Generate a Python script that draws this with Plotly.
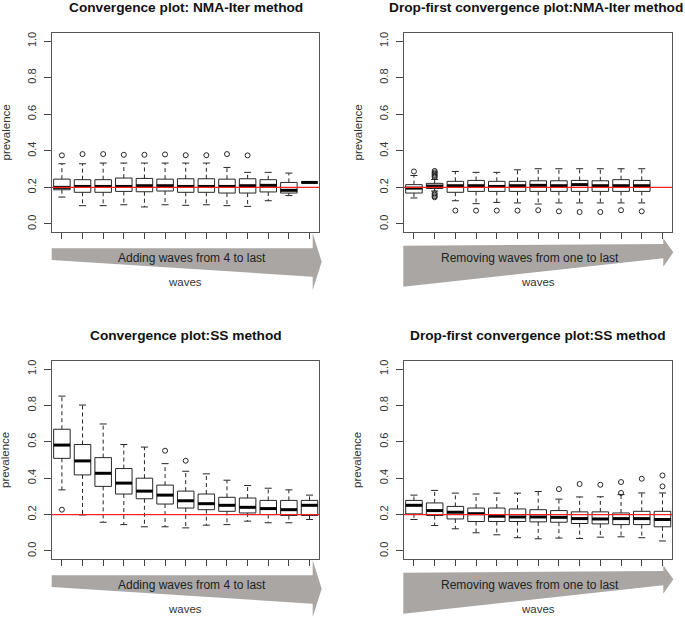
import plotly.graph_objects as go

W, H = 685, 618

# ---------------- data ----------------
titles = ["Convergence plot: NMA-Iter method",
          "Drop-first convergence plot:NMA-Iter method",
          "Convergence plot:SS method",
          "Drop-first convergence plot:SS method"]
arrow_texts = ["Adding waves from 4 to last", "Removing waves from one to last",
               "Adding waves from 4 to last", "Removing waves from one to last"]
x_title = "waves"
y_title = "prevalence"
true_prevalence = 0.2
y_ticks = [0.0, 0.2, 0.4, 0.6, 0.8, 1.0]
n_positions = 13

# Panel 1: NMA-Iter, adding waves
p1_lo = [0.147, 0.100, 0.100, 0.105, 0.093, 0.105, 0.102, 0.105, 0.100, 0.096, 0.127, 0.155, 0.227]
p1_q1 = [0.187, 0.173, 0.173, 0.178, 0.176, 0.180, 0.173, 0.173, 0.169, 0.169, 0.175, 0.169, 0.227]
p1_md = [0.200, 0.205, 0.205, 0.205, 0.209, 0.209, 0.205, 0.205, 0.205, 0.209, 0.211, 0.184, 0.227]
p1_q3 = [0.245, 0.242, 0.242, 0.251, 0.249, 0.245, 0.247, 0.247, 0.245, 0.247, 0.242, 0.227, 0.227]
p1_hi = [0.329, 0.329, 0.333, 0.333, 0.333, 0.333, 0.333, 0.333, 0.309, 0.282, 0.282, 0.278, 0.227]
p1_out_x = [1, 2, 3, 4, 5, 6, 7, 8, 9, 10]
p1_out_y = [0.375, 0.382, 0.382, 0.378, 0.378, 0.380, 0.376, 0.376, 0.382, 0.375]

# Panel 2: NMA-Iter, drop-first
p2_lo = [0.142, 0.180, 0.127, 0.111, 0.118, 0.115, 0.109, 0.115, 0.115, 0.115, 0.115, 0.115]
p2_q1 = [0.169, 0.194, 0.173, 0.178, 0.178, 0.178, 0.178, 0.178, 0.178, 0.178, 0.178, 0.178]
p2_md = [0.196, 0.207, 0.209, 0.209, 0.205, 0.209, 0.211, 0.209, 0.215, 0.209, 0.209, 0.209]
p2_q3 = [0.215, 0.222, 0.233, 0.238, 0.233, 0.233, 0.236, 0.236, 0.238, 0.236, 0.242, 0.238]
p2_hi = [0.265, 0.243, 0.287, 0.282, 0.282, 0.296, 0.302, 0.302, 0.302, 0.302, 0.302, 0.302]
p2_out_x = [1, 2, 2, 2, 2, 2, 2, 2, 2, 2, 2, 3, 4, 5, 6, 7, 8, 9, 10, 11, 12]
p2_out_y = [0.287, 0.290, 0.282, 0.275, 0.268, 0.262, 0.256, 0.168, 0.160, 0.152, 0.146,
            0.073, 0.073, 0.073, 0.073, 0.075, 0.069, 0.065, 0.065, 0.075, 0.069]

# Panel 3: SS, adding waves
p3_lo = [0.336, 0.198, 0.158, 0.145, 0.133, 0.133, 0.127, 0.142, 0.145, 0.164, 0.155, 0.155, 0.173]
p3_q1 = [0.509, 0.418, 0.355, 0.313, 0.287, 0.258, 0.236, 0.227, 0.218, 0.209, 0.200, 0.195, 0.195]
p3_md = [0.582, 0.495, 0.427, 0.373, 0.329, 0.307, 0.276, 0.260, 0.251, 0.240, 0.233, 0.227, 0.251]
p3_q3 = [0.669, 0.585, 0.513, 0.453, 0.400, 0.362, 0.329, 0.313, 0.295, 0.291, 0.278, 0.278, 0.278]
p3_hi = [0.851, 0.802, 0.698, 0.585, 0.571, 0.480, 0.438, 0.424, 0.389, 0.360, 0.345, 0.336, 0.307]
p3_out_x = [1, 6, 7]
p3_out_y = [0.227, 0.551, 0.496]

# Panel 4: SS, drop-first
p4_lo = [0.173, 0.140, 0.122, 0.100, 0.089, 0.073, 0.067, 0.071, 0.069, 0.076, 0.078, 0.073, 0.055]
p4_q1 = [0.204, 0.195, 0.176, 0.162, 0.162, 0.162, 0.160, 0.158, 0.151, 0.149, 0.145, 0.145, 0.133]
p4_md = [0.251, 0.222, 0.213, 0.205, 0.191, 0.187, 0.187, 0.185, 0.178, 0.176, 0.178, 0.178, 0.173]
p4_q3 = [0.278, 0.264, 0.245, 0.236, 0.236, 0.231, 0.227, 0.222, 0.215, 0.215, 0.209, 0.218, 0.218]
p4_hi = [0.307, 0.333, 0.318, 0.313, 0.318, 0.318, 0.327, 0.285, 0.297, 0.298, 0.310, 0.319, 0.319]
p4_out_x = [8, 9, 10, 11, 11, 12, 13, 13]
p4_out_y = [0.340, 0.368, 0.364, 0.319, 0.379, 0.397, 0.355, 0.415]

panels = [
    (p1_lo, p1_q1, p1_md, p1_q3, p1_hi, p1_out_x, p1_out_y),
    (p2_lo, p2_q1, p2_md, p2_q3, p2_hi, p2_out_x, p2_out_y),
    (p3_lo, p3_q1, p3_md, p3_q3, p3_hi, p3_out_x, p3_out_y),
    (p4_lo, p4_q1, p4_md, p4_q3, p4_hi, p4_out_x, p4_out_y),
]

# ---------------- layout geometry (pixels) ----------------
plot_boxes = [(52, 319, 33, 232), (404, 672, 33, 232),
              (52, 319, 361, 559), (404, 672, 361, 559)]
title_centers = [(185.5, 8), (536, 8), (185.5, 335), (538, 335)]
BOX_HALF = 0.4
STAPLE_HALF = 0.17
FONT = "Liberation Sans, Arial, sans-serif"
ARROW_COLOR = "#a9a6a4"
BOX_COLOR = "#262626"


def fx(px):
    return px / W


def fy(py):
    return 1 - py / H


fig = go.Figure()
layout_axes = {}
annotations = []
shapes = []

for k, (lo, q1, md, q3, hi, ox, oy) in enumerate(panels):
    idx = k + 1
    xa = "x" if idx == 1 else f"x{idx}"
    ya = "y" if idx == 1 else f"y{idx}"
    pos = list(range(1, len(md) + 1))

    wx, wy, sx, sy, bx, by, mx, my = [], [], [], [], [], [], [], []
    for p, a, b, c, d, e in zip(pos, lo, q1, md, q3, hi):
        wx += [p, p, None, p, p, None]
        wy += [d, e, None, b, a, None]
        sx += [p - STAPLE_HALF, p + STAPLE_HALF, None, p - STAPLE_HALF, p + STAPLE_HALF, None]
        sy += [e, e, None, a, a, None]
        bx += [p - BOX_HALF, p + BOX_HALF, p + BOX_HALF, p - BOX_HALF, p - BOX_HALF, None]
        by += [b, b, d, d, b, None]
        mx += [p - BOX_HALF, p + BOX_HALF, None]
        my += [c, c, None]

    common = dict(xaxis=xa, yaxis=ya, hoverinfo="skip", showlegend=False)
    fig.add_trace(go.Scatter(x=wx, y=wy, mode="lines",
                             line=dict(color=BOX_COLOR, width=1, dash="4px,3px"), **common))
    fig.add_trace(go.Scatter(x=sx, y=sy, mode="lines",
                             line=dict(color=BOX_COLOR, width=1), **common))
    fig.add_trace(go.Scatter(x=bx, y=by, mode="lines",
                             line=dict(color=BOX_COLOR, width=1), **common))
    fig.add_trace(go.Scatter(x=mx, y=my, mode="lines",
                             line=dict(color="#000000", width=3), **common))
    fig.add_trace(go.Scatter(x=ox, y=oy, mode="markers",
                             marker=dict(symbol="circle-open", size=5,
                                         color=BOX_COLOR, line=dict(width=1)), **common))

    l, r, t, b_ = plot_boxes[k]
    xkey = "xaxis" if idx == 1 else f"xaxis{idx}"
    ykey = "yaxis" if idx == 1 else f"yaxis{idx}"
    layout_axes[xkey] = dict(
        domain=[fx(l), fx(r)], anchor=ya, range=[0.52, 13.46],
        tickvals=list(range(1, n_positions + 1)), showticklabels=False,
        ticks="outside", ticklen=6, tickcolor="#444", tickwidth=1,
        showline=True, mirror=True, linecolor="#555", linewidth=1,
        showgrid=False, zeroline=False, fixedrange=True)
    layout_axes[ykey] = dict(
        domain=[fy(b_), fy(t)], anchor=xa, range=[-0.044, 1.044],
        tickvals=y_ticks, tickformat=".1f", tickangle=-90,
        ticks="outside", ticklen=7, tickcolor="#444", tickwidth=1,
        ticklabelstandoff=4,
        tickfont=dict(family=FONT, size=11, color="#333"),
        showline=True, mirror=True, linecolor="#555", linewidth=1,
        showgrid=False, zeroline=False, fixedrange=True)

    shapes.append(dict(type="line", xref=f"{xa} domain", yref=ya, x0=0, x1=1,
                       y0=true_prevalence, y1=true_prevalence,
                       line=dict(color="#ff2020", width=1.3), layer="above"))

    tcx, tcy = title_centers[k]
    annotations.append(dict(text=f"<b>{titles[k]}</b>", xref="paper", yref="paper",
                            x=fx(tcx), y=fy(tcy),
                            xanchor="center", yanchor="middle", showarrow=False,
                            font=dict(family=FONT, size=13.7, color="#111")))
    annotations.append(dict(text=y_title, xref="paper", yref="paper",
                            x=fx(l - 47), y=fy((t + b_) / 2), textangle=-90,
                            xanchor="center", yanchor="middle", showarrow=False,
                            font=dict(family=FONT, size=11.5, color="#333")))

# direction arrows under each panel
dy = [0, 0, 327, 327]
for k in range(4):
    off = dy[k]
    if k % 2 == 0:
        pts = [(51.7, 248.3), (312.7, 248.3), (312.7, 233.3), (321.7, 261.7),
               (312.7, 290), (312.7, 276.7), (51.7, 260)]
        tx, ty, wvx = 192, 257.7, 185
    else:
        pts = [(403.3, 245.7), (663.3, 244), (663.3, 238.3), (673.3, 252.3),
               (663.3, 266.7), (663.3, 258.3), (403.3, 286.7)]
        tx, ty, wvx = 529.5, 257.7, 538
    path = "M " + " L ".join(f"{fx(x):.5f},{fy(y + off):.5f}" for x, y in pts) + " Z"
    shapes.append(dict(type="path", xref="paper", yref="paper", path=path,
                       fillcolor=ARROW_COLOR, line=dict(width=0), layer="below"))
    annotations.append(dict(text=arrow_texts[k], xref="paper", yref="paper",
                            x=fx(tx), y=fy(ty + off), xanchor="center", yanchor="middle",
                            showarrow=False, font=dict(family=FONT, size=12, color="#222")))
    annotations.append(dict(text=x_title, xref="paper", yref="paper",
                            x=fx(wvx), y=fy(281.7 + off), xanchor="center", yanchor="middle",
                            showarrow=False, font=dict(family=FONT, size=11.5, color="#333")))

fig.update_layout(width=W, height=H, margin=dict(l=0, r=0, t=0, b=0),
                  paper_bgcolor="white", plot_bgcolor="white",
                  showlegend=False, annotations=annotations, shapes=shapes,
                  **layout_axes)

fig.write_html("out.html",
               config={"displayModeBar": False},
               post_script="document.body.style.margin='0';document.body.style.padding='0';"
                           "document.body.style.overflow='hidden';")
